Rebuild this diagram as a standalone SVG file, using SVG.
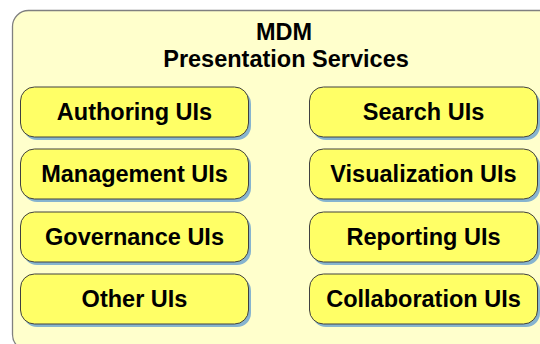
<svg xmlns="http://www.w3.org/2000/svg" width="540" height="344" viewBox="0 0 540 344">
  <style>
    .outer { fill: #ffffcc; stroke: #808080; stroke-width: 1.3; }
    .shadow { fill: #86b4cf; }
    .box { fill: #ffff66; stroke: #404040; stroke-width: 1; }
    .t { font-family: "Liberation Sans", Arial, sans-serif; font-weight: bold; font-size: 23.5px; fill: #000; text-anchor: middle; }
  </style>
  <rect width="540" height="344" fill="#ffffff"/>
  <g id="container">
    <rect class="outer" x="12.5" y="10.5" width="545" height="340" rx="16" ry="16"/>
    <text class="t" x="284" y="39.5">MDM</text>
    <text class="t" x="286" y="67">Presentation Services</text>
  </g>
  <g id="authoring">
    <rect class="shadow" x="23" y="90" width="228" height="50" rx="14"/>
    <rect class="box" x="20.5" y="87" width="228" height="50" rx="14"/>
    <text class="t" x="134.5" y="120">Authoring UIs</text>
  </g>
  <g id="management">
    <rect class="shadow" x="23" y="152" width="228" height="50" rx="14"/>
    <rect class="box" x="20.5" y="149" width="228" height="50" rx="14"/>
    <text class="t" x="134.5" y="182">Management UIs</text>
  </g>
  <g id="governance">
    <rect class="shadow" x="23" y="215" width="228" height="50" rx="14"/>
    <rect class="box" x="20.5" y="212" width="228" height="50" rx="14"/>
    <text class="t" x="134.5" y="245">Governance UIs</text>
  </g>
  <g id="other">
    <rect class="shadow" x="23" y="277" width="228" height="50" rx="14"/>
    <rect class="box" x="20.5" y="274" width="228" height="50" rx="14"/>
    <text class="t" x="134.5" y="307">Other UIs</text>
  </g>
  <g id="search">
    <rect class="shadow" x="312" y="90" width="228" height="50" rx="14"/>
    <rect class="box" x="309.5" y="87" width="228" height="50" rx="14"/>
    <text class="t" x="423.5" y="120">Search UIs</text>
  </g>
  <g id="visualization">
    <rect class="shadow" x="312" y="152" width="228" height="50" rx="14"/>
    <rect class="box" x="309.5" y="149" width="228" height="50" rx="14"/>
    <text class="t" x="423.5" y="182">Visualization UIs</text>
  </g>
  <g id="reporting">
    <rect class="shadow" x="312" y="215" width="228" height="50" rx="14"/>
    <rect class="box" x="309.5" y="212" width="228" height="50" rx="14"/>
    <text class="t" x="423.5" y="245">Reporting UIs</text>
  </g>
  <g id="collaboration">
    <rect class="shadow" x="312" y="277" width="228" height="50" rx="14"/>
    <rect class="box" x="309.5" y="274" width="228" height="50" rx="14"/>
    <text class="t" x="423.5" y="307">Collaboration UIs</text>
  </g>
  <g id="connectors"></g>
</svg>
